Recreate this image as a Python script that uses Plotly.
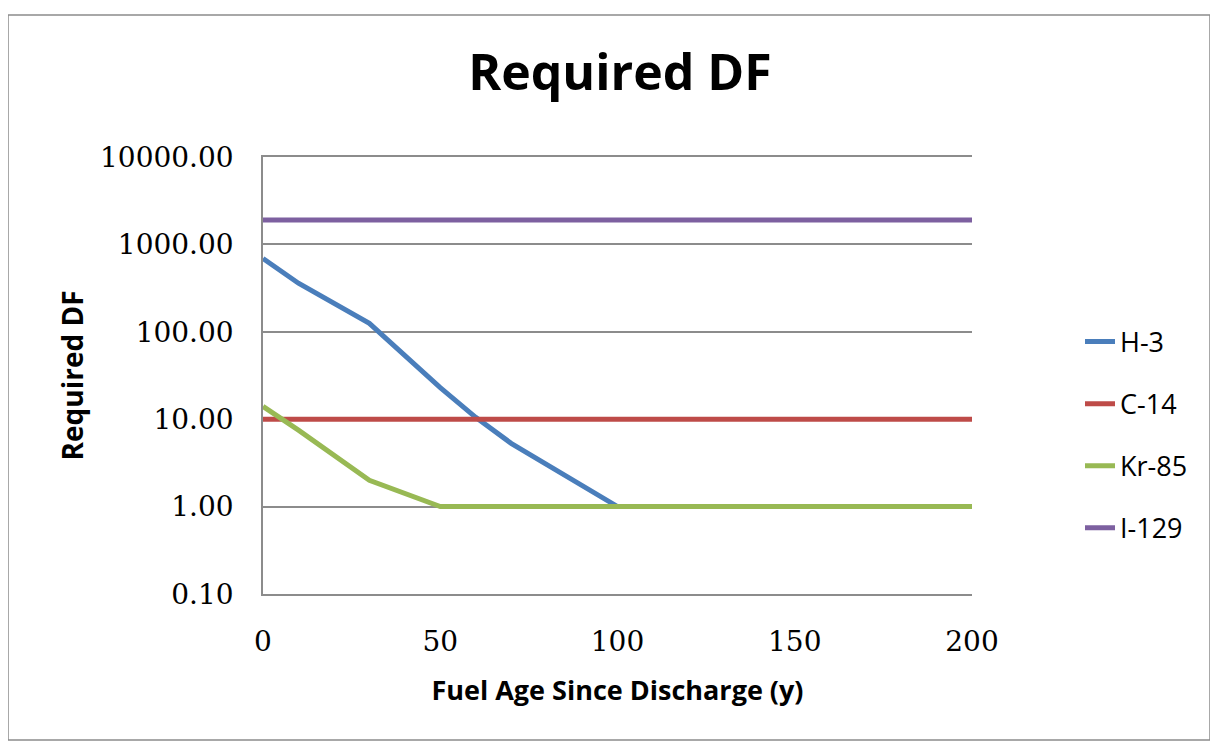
import plotly.graph_objects as go

years_h3 = [0, 10, 30, 50, 60, 70, 100, 150, 200]
h3 = [690, 360, 125, 23, 10.5, 5.3, 1.0, 1.0, 1.0]

years_c14 = [0, 50, 100, 150, 200]
c14 = [10, 10, 10, 10, 10]

years_kr = [0, 10, 30, 50, 100, 150, 200]
kr85 = [14, 7.5, 2.0, 1.0, 1.0, 1.0, 1.0]

years_i = [0, 50, 100, 150, 200]
i129 = [1900, 1900, 1900, 1900, 1900]

names = ["H-3", "C-14", "Kr-85", "I-129"]
colors = ["#4A7EBB", "#BE4B48", "#98B954", "#7D60A0"]

y_tickvals = [0.1, 1, 10, 100, 1000, 10000]
y_ticktext = ["0.10", "1.00", "10.00", "100.00", "1000.00", "10000.00"]
x_tickvals = [0, 50, 100, 150, 200]

series = [(years_h3, h3), (years_c14, c14), (years_kr, kr85), (years_i, i129)]

fig = go.Figure()
for (xs, ys), n, c in zip(series, names, colors):
    fig.add_trace(go.Scatter(x=xs, y=ys, mode="lines", name=n, legendgroup=n,
                             line=dict(color=c, width=5)))

OFF = 8  # page body margin
W, H = 1218, 747
L, T = 263 - OFF, 157 - OFF
pw, ph = 709, 437
R = W - L - pw
B = H - T - ph

def px(x):
    return (x - OFF - L) / pw

def py(y):
    return (T + ph - (y - OFF)) / ph

fig.update_layout(
    width=W, height=H,
    margin=dict(l=L, r=R, t=T, b=B),
    paper_bgcolor="white", plot_bgcolor="white",
    title=dict(text="<b>Required DF</b>", x=(620 - OFF) / W, xanchor="center",
               y=1 - (72 - OFF) / H, yanchor="middle",
               font=dict(family="Open Sans", size=50, color="black")),
    showlegend=True,
    legend=dict(x=px(1080), xanchor="left", y=py(435), yanchor="middle",
                traceorder="grouped", tracegroupgap=24,
                font=dict(family="Open Sans", size=27, color="black"),
                bgcolor="rgba(0,0,0,0)"),
    xaxis=dict(range=[0, 200], tickvals=x_tickvals, showgrid=False, zeroline=False,
               showline=True, mirror=True, linecolor="#8C8C8C", linewidth=1.5,
               ticks="", ticklabelstandoff=22,
               tickfont=dict(family="DejaVu Serif", size=28, color="black"),
               title=dict(text="<b>Fuel Age Since Discharge (y)</b>", standoff=24,
                          font=dict(family="Open Sans", size=27, color="black"))),
    yaxis=dict(type="log", range=[-1, 4], tickvals=y_tickvals, ticktext=y_ticktext,
               showgrid=True, gridcolor="#8C8C8C", gridwidth=1.5, zeroline=False,
               showline=True, linecolor="#8C8C8C", linewidth=1.5, ticks="",
               ticklabelstandoff=22,
               tickfont=dict(family="DejaVu Serif", size=28, color="black"),
               title=dict(text="<b>Required DF</b>", standoff=8,
                          font=dict(family="Open Sans", size=28, color="black"))),
)

fig.add_shape(type="rect", xref="paper", yref="paper",
              x0=px(8), x1=px(1210), y0=py(740), y1=py(15),
              line=dict(color="#8C8C8C", width=1.5), layer="below")

fig.write_html("out.html")
